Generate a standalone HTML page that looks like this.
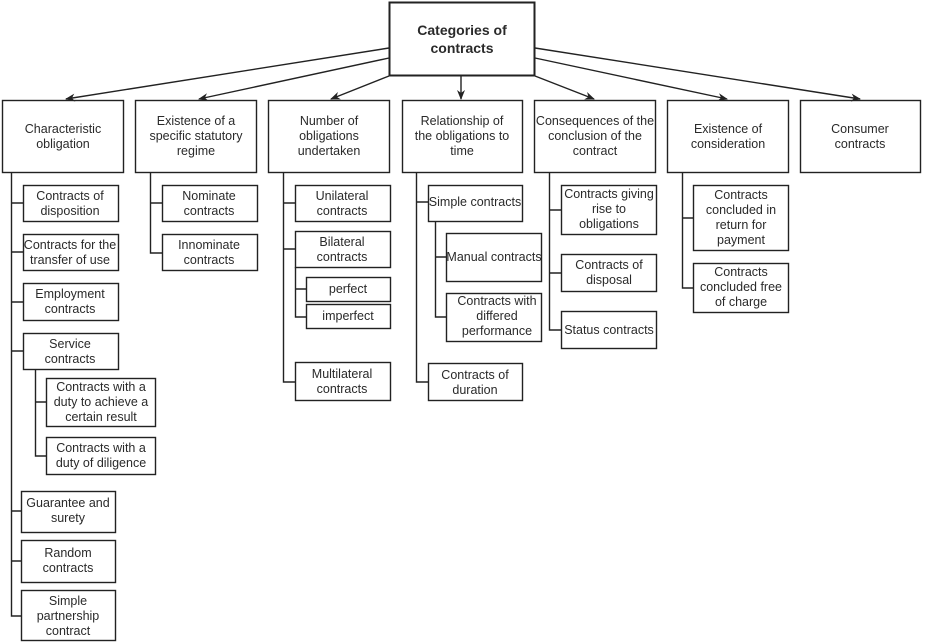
<!DOCTYPE html>
<html><head><meta charset="utf-8"><style>body{margin:0;background:#fff}svg{display:block}</style></head><body>
<svg width="925" height="642" viewBox="0 0 925 642" xmlns="http://www.w3.org/2000/svg">
<defs><marker id="a" markerWidth="10" markerHeight="8" refX="9" refY="4" orient="auto" markerUnits="userSpaceOnUse"><path d="M0,0 L10,4 L0,8 L3,4 z" fill="#222"/></marker></defs>
<g stroke="#222" stroke-width="1.4" fill="none">
<rect x="389.5" y="2.5" width="145" height="73" stroke-width="2"/>
<line x1="389" y1="48" x2="66" y2="99" marker-end="url(#a)"/>
<line x1="389" y1="58" x2="199" y2="99" marker-end="url(#a)"/>
<line x1="389" y1="76" x2="331" y2="99" marker-end="url(#a)"/>
<line x1="461" y1="76" x2="461" y2="99" marker-end="url(#a)"/>
<line x1="535" y1="76" x2="594" y2="99" marker-end="url(#a)"/>
<line x1="535" y1="58" x2="727" y2="99" marker-end="url(#a)"/>
<line x1="535" y1="48" x2="860" y2="99" marker-end="url(#a)"/>
<rect x="2.5" y="100.5" width="121" height="72"/>
<rect x="135.5" y="100.5" width="121" height="72"/>
<rect x="268.5" y="100.5" width="121" height="72"/>
<rect x="402.5" y="100.5" width="120" height="72"/>
<rect x="534.5" y="100.5" width="121" height="72"/>
<rect x="667.5" y="100.5" width="121" height="72"/>
<rect x="800.5" y="100.5" width="120" height="72"/>
<path d="M11.5 172 V616 H21 M11.5 203 H23 M11.5 252 H23 M11.5 302 H23 M11.5 351 H23 M11.5 511 H21 M11.5 561 H21"/>
<path d="M35.5 369 V456 H46 M35.5 402 H46"/>
<rect x="23.5" y="185.5" width="95" height="36"/>
<rect x="23.5" y="234.5" width="95" height="36"/>
<rect x="23.5" y="283.5" width="95" height="37"/>
<rect x="23.5" y="333.5" width="95" height="36"/>
<rect x="46.5" y="378.5" width="109" height="48"/>
<rect x="46.5" y="437.5" width="109" height="37"/>
<rect x="21.5" y="491.5" width="94" height="41"/>
<rect x="21.5" y="540.5" width="94" height="42"/>
<rect x="21.5" y="590.5" width="94" height="50"/>
<path d="M150.5 172 V253 H162 M150.5 203 H162"/>
<rect x="162.5" y="185.5" width="95" height="36"/>
<rect x="162.5" y="234.5" width="95" height="36"/>
<path d="M283.5 172 V382 H295 M283.5 203 H295 M283.5 249 H295"/>
<path d="M295.5 267 V317 H306 M295.5 289 H306"/>
<rect x="295.5" y="185.5" width="95" height="36"/>
<rect x="295.5" y="231.5" width="95" height="36"/>
<rect x="306.5" y="277.5" width="84" height="24"/>
<rect x="306.5" y="304.5" width="84" height="24"/>
<rect x="295.5" y="362.5" width="95" height="38"/>
<path d="M416.5 172 V382 H428 M416.5 202 H428"/>
<path d="M435.5 221 V317 H446 M435.5 257 H446"/>
<rect x="428.5" y="185.5" width="94" height="36"/>
<rect x="446.5" y="233.5" width="95" height="48"/>
<rect x="446.5" y="293.5" width="95" height="48"/>
<rect x="428.5" y="363.5" width="94" height="37"/>
<path d="M549.5 172 V330 H561 M549.5 210 H561 M549.5 273 H561"/>
<rect x="561.5" y="185.5" width="95" height="49"/>
<rect x="561.5" y="254.5" width="95" height="37"/>
<rect x="561.5" y="311.5" width="95" height="37"/>
<path d="M682.5 172 V288 H693 M682.5 218 H693"/>
<rect x="693.5" y="185.5" width="95" height="65"/>
<rect x="693.5" y="263.5" width="95" height="49"/>
</g>
<g font-family="Liberation Sans, sans-serif" font-size="12.5" fill="#2a2a2a" text-anchor="middle">
<text font-size="14" font-weight="bold" x="462" y="35">Categories of</text>
<text font-size="14" font-weight="bold" x="462" y="53">contracts</text>
<text x="63" y="133">Characteristic</text><text x="63" y="148">obligation</text>
<text x="196" y="125">Existence of a</text><text x="196" y="140">specific statutory</text><text x="196" y="155">regime</text>
<text x="329" y="125">Number of</text><text x="329" y="140">obligations</text><text x="329" y="155">undertaken</text>
<text x="462" y="125">Relationship of</text><text x="462" y="140">the obligations to</text><text x="462" y="155">time</text>
<text x="595" y="125">Consequences of the</text><text x="595" y="140">conclusion of the</text><text x="595" y="155">contract</text>
<text x="728" y="133">Existence of</text><text x="728" y="148">consideration</text>
<text x="860" y="133">Consumer</text><text x="860" y="148">contracts</text>
<text x="70" y="200">Contracts of</text><text x="70" y="215">disposition</text>
<text x="70" y="249">Contracts for the</text><text x="70" y="264">transfer of use</text>
<text x="70" y="298">Employment</text><text x="70" y="313">contracts</text>
<text x="70" y="348">Service</text><text x="70" y="363">contracts</text>
<text x="101" y="391">Contracts with a</text><text x="101" y="406">duty to achieve a</text><text x="101" y="421">certain result</text>
<text x="101" y="452">Contracts with a</text><text x="101" y="467">duty of diligence</text>
<text x="68" y="507">Guarantee and</text><text x="68" y="522">surety</text>
<text x="68" y="557">Random</text><text x="68" y="572">contracts</text>
<text x="68" y="605">Simple</text><text x="68" y="620">partnership</text><text x="68" y="635">contract</text>
<text x="209" y="200">Nominate</text><text x="209" y="215">contracts</text>
<text x="209" y="249">Innominate</text><text x="209" y="264">contracts</text>
<text x="342" y="200">Unilateral</text><text x="342" y="215">contracts</text>
<text x="342" y="246">Bilateral</text><text x="342" y="261">contracts</text>
<text x="348" y="293">perfect</text><text x="348" y="320">imperfect</text>
<text x="342" y="378">Multilateral</text><text x="342" y="393">contracts</text>
<text x="475" y="206">Simple contracts</text>
<text x="494" y="261">Manual contracts</text>
<text x="497" y="305">Contracts with</text><text x="497" y="320">differed</text><text x="497" y="335">performance</text>
<text x="475" y="379">Contracts of</text><text x="475" y="394">duration</text>
<text x="609" y="198">Contracts giving</text><text x="609" y="213">rise to</text><text x="609" y="228">obligations</text>
<text x="609" y="269">Contracts of</text><text x="609" y="284">disposal</text>
<text x="609" y="334">Status contracts</text>
<text x="741" y="199">Contracts</text><text x="741" y="214">concluded in</text><text x="741" y="229">return for</text><text x="741" y="244">payment</text>
<text x="741" y="276">Contracts</text><text x="741" y="291">concluded free</text><text x="741" y="306">of charge</text>
</g>
</svg>
</body></html>
